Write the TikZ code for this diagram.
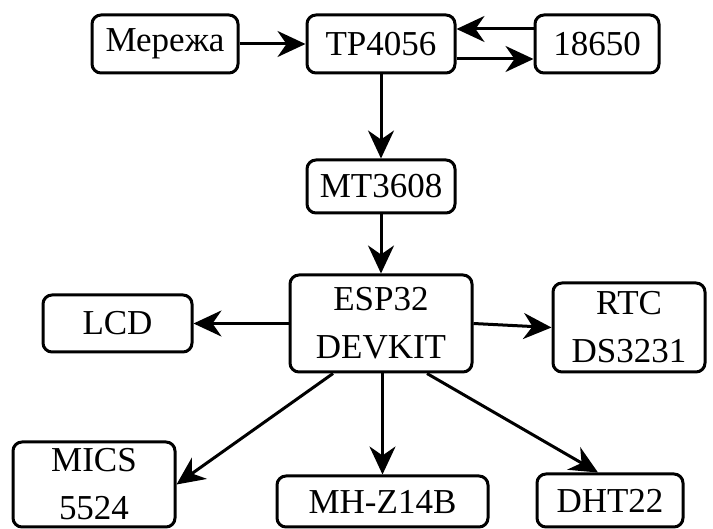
\documentclass[tikz,border=0pt]{standalone}
\usepackage{fontspec}
\setmainfont{Liberation Serif}
\newfontfamily\tnrfont{Liberation Serif}
\usetikzlibrary{arrows.meta}
\begin{document}
\begin{tikzpicture}[x=1pt,y=-1pt,
  box/.style={draw, line width=3pt, rounded corners=9pt, inner sep=0pt, align=center,
    font=\tnrfont\fontsize{35}{48}\selectfont},
  arr/.style={line width=3pt, -{Stealth[length=28pt,width=26pt,inset=9pt]}}]
\useasboundingbox (0,0) rectangle (713,529);
\node[box, minimum width=146pt, minimum height=58pt] (mer) at (165,44) {Мережа};
\node[box, minimum width=148pt, minimum height=58pt] (tp) at (381,44) {TP4056};
\node[box, minimum width=124pt, minimum height=58pt] (bat) at (597,44) {18650};
\node[box, minimum width=148pt, minimum height=53pt] (mt) at (381,186.5) {MT3608};
\node[box, minimum width=182pt, minimum height=97pt] (esp) at (381,323.5) {ESP32\\DEVKIT};
\node[box, minimum width=149pt, minimum height=57pt] (lcd) at (117.5,323.5) {LCD};
\node[box, minimum width=152pt, minimum height=89pt] (rtc) at (629,327.5) {RTC\\DS3231};
\node[box, minimum width=162pt, minimum height=85pt] (mics) at (94,484.5) {MICS\\5524};
\node[box, minimum width=211pt, minimum height=51pt] (mhz) at (382.5,501.5) {MH-Z14B};
\node[box, minimum width=146pt, minimum height=53pt] (dht) at (610,500.5) {DHT22};

\draw[arr] (mer) -- (tp);
\draw[arr] ([yshift=15pt]bat.west) -- ([yshift=15pt]tp.east);
\draw[arr] ([yshift=-15pt]tp.east) -- ([yshift=-15pt]bat.west);
\draw[arr] (tp) -- (mt);
\draw[arr] (mt) -- (esp);
\draw[arr] (esp.west) -- (lcd.east);
\draw[arr] (esp.east) -- (rtc.west);
\draw[arr] ([xshift=-48pt]esp.south) -- (mics.east);
\draw[arr] ([xshift=1.5pt]esp.south) -- (mhz.north);
\draw[arr] ([xshift=46pt]esp.south) -- ([xshift=-12pt]dht.north);
\end{tikzpicture}
\end{document}
